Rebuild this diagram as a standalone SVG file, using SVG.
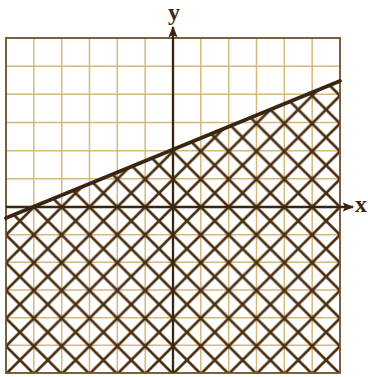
<svg xmlns="http://www.w3.org/2000/svg" width="368" height="377" viewBox="0 0 368 377">
<style>
.grid{stroke:#d8b77e;stroke-width:1.5;fill:none}
.border{stroke:#6e4f2a;stroke-width:1.8;fill:none}
.axis{stroke:#3a2610;stroke-width:2.3;fill:none}
.bound{stroke:#3a2610;stroke-width:3.8;fill:none;stroke-linecap:round}
.lbl{font-family:"Liberation Serif",serif;font-weight:bold;font-size:24px;fill:#3a2a14}
</style>
<defs>
<pattern id="hatch" patternUnits="userSpaceOnUse" x="173" y="207" width="27.83" height="27.83">
<path d="M-1,-1 L28.83,28.83 M28.83,-1 L-1,28.83" stroke="#4b2f12" stroke-width="2.7"/>
</pattern>
<marker id="arr" viewBox="0 0 10 10" refX="9" refY="5" markerWidth="5" markerHeight="5" orient="auto">
<path d="M0,1 L10,5 L0,9 L2,5 Z" fill="#3a2610"/>
</marker>
</defs>
<rect width="368" height="377" fill="#ffffff"/>
<g id="grid" class="grid">
<path d="M33.8,38V373 M61.7,38V373 M89.5,38V373 M117.3,38V373 M145.2,38V373 M200.8,38V373 M228.7,38V373 M256.5,38V373 M284.3,38V373 M312.2,38V373"/>
<path d="M6,66.2H340 M6,94.3H340 M6,122.5H340 M6,150.7H340 M6,178.8H340 M6,234.7H340 M6,262.3H340 M6,290H340 M6,317.7H340 M6,345.3H340"/>
</g>
<g id="shaded-region">
<polygon points="6,218 340,81 340,373 6,373" fill="url(#hatch)"/>
</g>
<rect id="border" class="border" x="6" y="38" width="334" height="335"/>
<g id="connectors">
<line id="x-axis" class="axis" x1="6" y1="207" x2="353" y2="207" marker-end="url(#arr)"/>
<line id="y-axis" class="axis" x1="173" y1="373" x2="173" y2="27" marker-end="url(#arr)"/>
<line id="boundary" class="bound" x1="6" y1="218" x2="340" y2="81"/>
</g>
<g id="label-y"><text class="lbl" x="174" y="20" text-anchor="middle">y</text></g>
<g id="label-x"><text class="lbl" x="361" y="212" text-anchor="middle">x</text></g>
</svg>
